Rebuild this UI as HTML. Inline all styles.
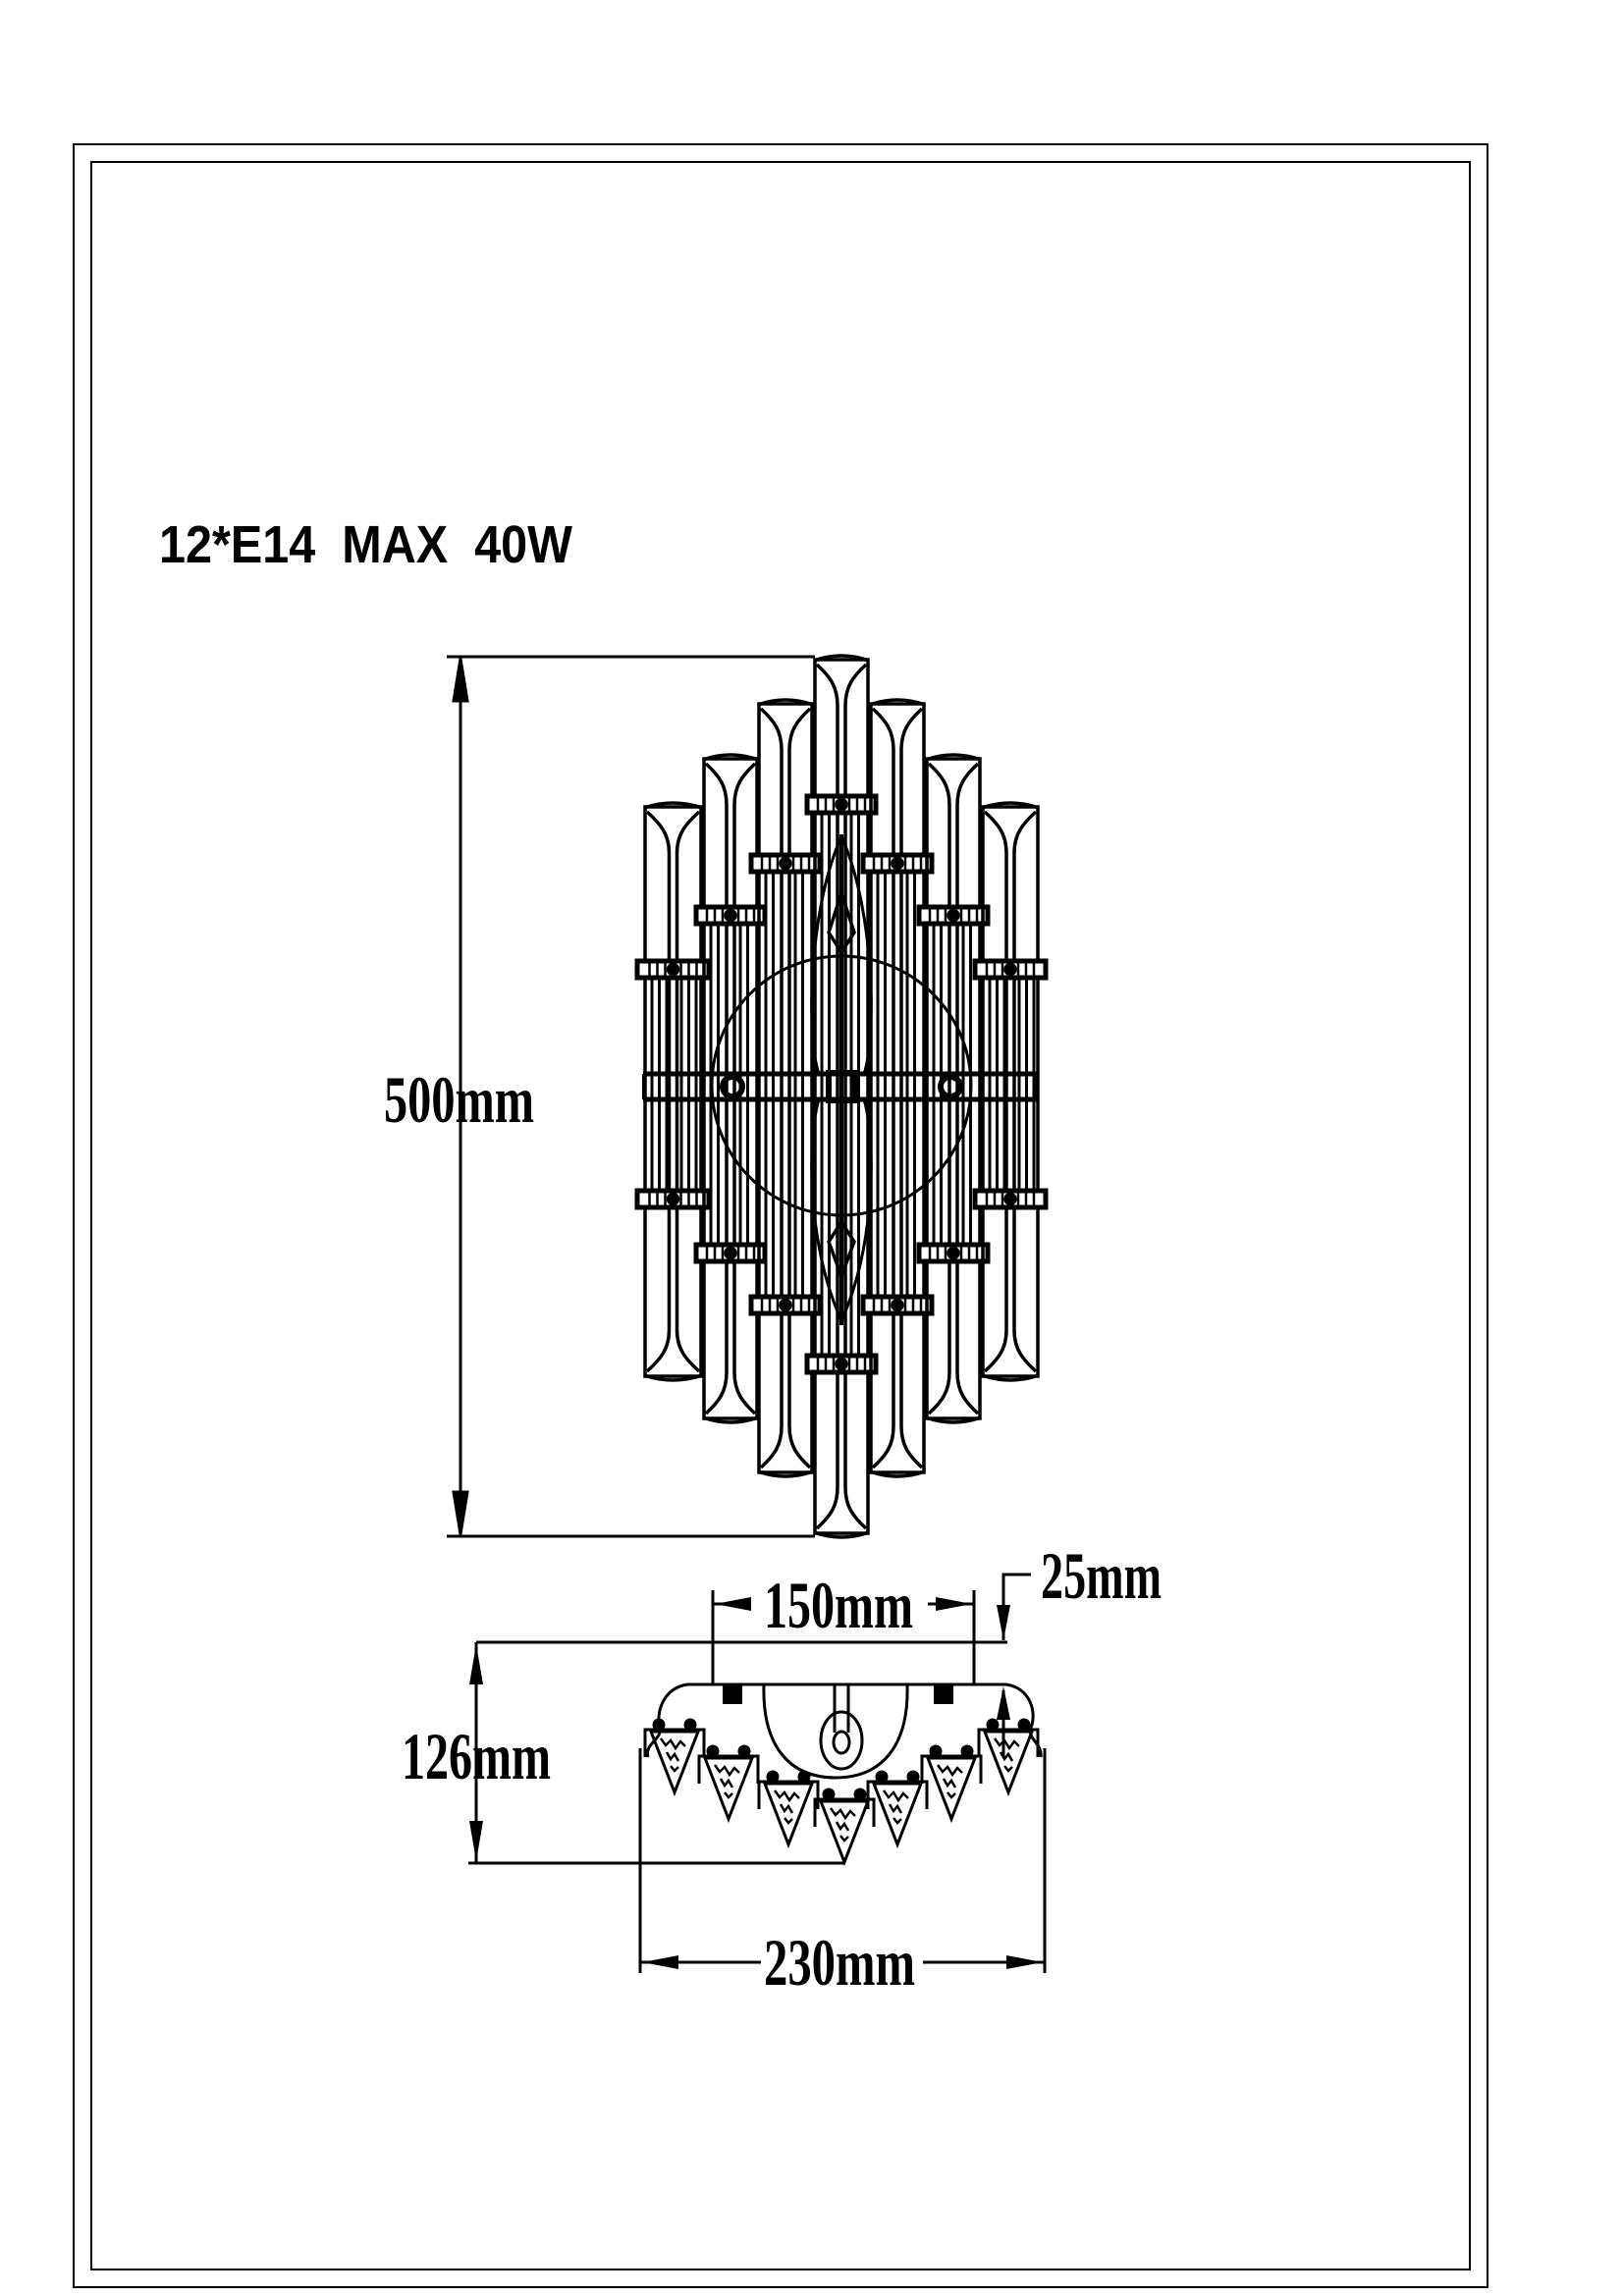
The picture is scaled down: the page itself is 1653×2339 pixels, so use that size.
<!DOCTYPE html>
<html><head><meta charset="utf-8"><style>
html,body{margin:0;padding:0;background:#fff}
svg{display:block}
.d{font-family:"Liberation Serif",serif;font-size:68px;font-weight:bold;fill:#000}
</style></head><body>
<svg id="s" width="1653" height="2339" viewBox="0 0 1653 2339" xmlns="http://www.w3.org/2000/svg">
<rect width="1653" height="2339" fill="#fff"/>
<rect x="75" y="147" width="1440" height="2183" fill="none" stroke="#000" stroke-width="2"/>
<rect x="93" y="165" width="1404" height="2147" fill="none" stroke="#000" stroke-width="2"/>
<text x="162" y="573" font-family="Liberation Sans,sans-serif" font-weight="bold" font-size="54" textLength="421" lengthAdjust="spacingAndGlyphs" style="white-space:pre" xml:space="preserve">12*E14  MAX  40W</text>

<g id="lamp" stroke="#000" fill="none" stroke-width="3.5"></g>

<!-- 500 dim -->
<g stroke="#000" stroke-width="3" fill="#000">
<line x1="455" y1="669" x2="830" y2="669"/>
<line x1="455" y1="1565" x2="830" y2="1565"/>
<line x1="469" y1="669" x2="469" y2="1565"/>
<polygon points="469,671 462,714 476,714"/>
<polygon points="469,1563 462,1520 476,1520"/>
</g>
<text class="d" x="391" y="1143" textLength="153" lengthAdjust="spacingAndGlyphs">500mm</text>

<!-- bottom view -->
<g stroke="#000" stroke-width="3" fill="none">
<line x1="485" y1="1673" x2="1026" y2="1673"/>
<rect x="726" y="1673" width="266" height="43"/>
<line x1="726" y1="1620" x2="726" y2="1673"/>
<line x1="992" y1="1620" x2="992" y2="1673"/>
<line x1="726" y1="1634" x2="765" y2="1634"/>
<line x1="945" y1="1634" x2="992" y2="1634"/>
<polyline points="1050,1604 1022,1604 1022,1671"/>
<path d="M700,1716 L1025,1716 C1050,1720 1056,1745 1050,1760 C1046,1772 1062,1776 1060,1790 M700,1716 C675,1720 668,1745 672,1760 C675,1772 656,1776 660,1790"/>
<path d="M778,1716 C776,1780 805,1811 851,1811 C897,1811 926,1780 924,1716"/>
<ellipse cx="857" cy="1773" rx="21" ry="29"/>
<path d="M850,1716 L850,1765 M864,1716 L864,1765"/>
<ellipse cx="857" cy="1775" rx="8" ry="11"/>
<line x1="485" y1="1673" x2="485" y2="1898"/>
<line x1="477" y1="1898" x2="860" y2="1898"/>
<line x1="652" y1="1781" x2="652" y2="2010"/>
<line x1="1064" y1="1781" x2="1064" y2="2010"/>
<line x1="652" y1="1999" x2="775" y2="1999"/>
<line x1="940" y1="1999" x2="1064" y2="1999"/>
<line x1="1022" y1="1722" x2="1022" y2="1790"/>
</g>
<g fill="#000">
<rect x="736" y="1716" width="20" height="20"/>
<rect x="951" y="1716" width="20" height="20"/>
<polygon points="728,1634 765,1627 765,1641"/>
<polygon points="990,1634 953,1627 953,1641"/>
<polygon points="1022,1671 1015,1635 1029,1635"/>
<polygon points="485,1675 478,1716 492,1716"/>
<polygon points="485,1896 478,1855 492,1855"/>
<polygon points="654,1999 691,1992 691,2006"/>
<polygon points="1062,1999 1025,1992 1025,2006"/>
<polygon points="1022,1718 1015,1752 1029,1752"/>
</g>
<g id="crys" stroke="#000" stroke-width="3" fill="none"></g>
<text class="d" x="778" y="1658" textLength="152" lengthAdjust="spacingAndGlyphs">150mm</text>
<text class="d" x="1060" y="1628" textLength="123" lengthAdjust="spacingAndGlyphs">25mm</text>
<text class="d" x="409" y="1812" textLength="152" lengthAdjust="spacingAndGlyphs">126mm</text>
<text class="d" x="778" y="2022" textLength="154" lengthAdjust="spacingAndGlyphs">230mm</text>
</svg>
<script>
(function(){
var NS="http://www.w3.org/2000/svg",g=document.getElementById('lamp');
function el(t,a,p){var e=document.createElementNS(NS,t);for(var k in a)e.setAttribute(k,a[k]);(p||g).appendChild(e);return e;}
var cy=1110;
var tubes=[[657,714,819,1405],[717,771,770,1448],[773,827,714,1503],[830,884,669,1565],[887,941,714,1503],[944,998,770,1448],[1001,1057,819,1405]];
var clampTop=[987,932,879,819,879,932,987];
tubes.forEach(function(t,i){
 var x0=t[0],x1=t[1],top=t[2],bot=t[3],cx=(x0+x1)/2;
 el('rect',{x:x0,y:top+3,width:x1-x0,height:bot-top-6});
 el('path',{d:'M'+(x0-1)+','+(top+4)+' Q'+cx+','+(top-6)+' '+(x1+1)+','+(top+4)});
 el('path',{d:'M'+(x0+2)+','+(top+8)+' C'+(x0+15)+','+(top+20)+' '+(cx-4)+','+(top+30)+' '+(cx-4)+','+(top+50)+' M'+(x1-2)+','+(top+8)+' C'+(x1-15)+','+(top+20)+' '+(cx+4)+','+(top+30)+' '+(cx+4)+','+(top+50)});
 el('path',{d:'M'+(x0-1)+','+(bot-4)+' Q'+cx+','+(bot+6)+' '+(x1+1)+','+(bot-4)});
 el('path',{d:'M'+(x0+2)+','+(bot-8)+' C'+(x0+15)+','+(bot-20)+' '+(cx-4)+','+(bot-30)+' '+(cx-4)+','+(bot-50)+' M'+(x1-2)+','+(bot-8)+' C'+(x1-15)+','+(bot-20)+' '+(cx+4)+','+(bot-30)+' '+(cx+4)+','+(bot-50)});
 el('line',{x1:cx-4,y1:top+50,x2:cx-4,y2:bot-50});
 el('line',{x1:cx+4,y1:top+50,x2:cx+4,y2:bot-50});
 var ct=clampTop[i],cb=2*cy-ct-12;
 for(var x=x0+7;x<x1-3;x+=7.5){ if(Math.abs(x-cx)<6)continue; el('line',{x1:x,y1:ct,x2:x,y2:cb,'stroke-width':3}); }
 [ct-8,cb-8].forEach(function(y){
  el('rect',{x:x0-8,y:y,width:x1-x0+16,height:17,fill:'#fff','stroke-width':5});
  for(var k=-3;k<=3;k++){ if(k==0)continue; el('line',{x1:cx+k*8,y1:y,x2:cx+k*8,y2:y+17,'stroke-width':2.5});}
  el('circle',{cx:cx,cy:y+8.5,r:5,fill:'#000'});
 });
});
el('circle',{cx:857,cy:1106,r:132,'stroke-width':3});
el('line',{x1:655,y1:1094,x2:1057,y2:1094,'stroke-width':5});
el('line',{x1:655,y1:1120,x2:1057,y2:1120,'stroke-width':5});
el('line',{x1:656,y1:1094,x2:656,y2:1120,'stroke-width':4});
el('line',{x1:1056,y1:1094,x2:1056,y2:1120,'stroke-width':4});
el('circle',{cx:746,cy:1107,r:10,'stroke-width':6});
el('circle',{cx:968,cy:1107,r:10,'stroke-width':6});
el('rect',{x:844,y:1093,width:26,height:28,'stroke-width':6});
el('path',{d:'M857,852 C822,930 822,1060 834,1094 M857,852 C892,930 892,1060 880,1094','stroke-width':3});
el('path',{d:'M857,1345 C822,1270 822,1160 834,1120 M857,1345 C892,1270 892,1160 880,1120','stroke-width':3});
el('path',{d:'M857,910 L844,950 L857,970 L870,950 Z','stroke-width':3.5});
el('path',{d:'M857,1245 L844,1265 L857,1300 L870,1265 Z','stroke-width':3.5});
el('line',{x1:857,y1:850,x2:857,y2:1350,'stroke-width':4});
var c=document.getElementById('crys');
var cr=[[687,1826],[742,1853],[803,1879],[860,1897],[914,1879],[969,1853],[1027,1826]];
cr.forEach(function(p){
 var x=p[0],tip=p[1],t=tip-62,w=24;
 el('path',{d:'M'+(x-w)+','+t+' L'+(x+w)+','+t+' L'+x+','+tip+' Z'},c);
 el('path',{d:'M'+(x-w-6)+','+(t+26)+' L'+(x-w-6)+','+(t-2)+' L'+(x+w+6)+','+(t-2)+' L'+(x+w+6)+','+(t+26)},c);
 el('circle',{cx:x-16,cy:t-7,r:5,fill:'#000'},c);
 el('circle',{cx:x+16,cy:t-7,r:5,fill:'#000'},c);
 el('path',{d:'M'+(x-14)+','+(t+7)+' l5,7 l5,-5 l5,8 l5,-7 l5,5 M'+(x-8)+','+(t+21)+' l4,7 l4,-5 l4,7 M'+(x-4)+','+(t+35)+' l4,5 l4,-4','stroke-width':2.5},c);
});
})();
</script>
</body></html>
